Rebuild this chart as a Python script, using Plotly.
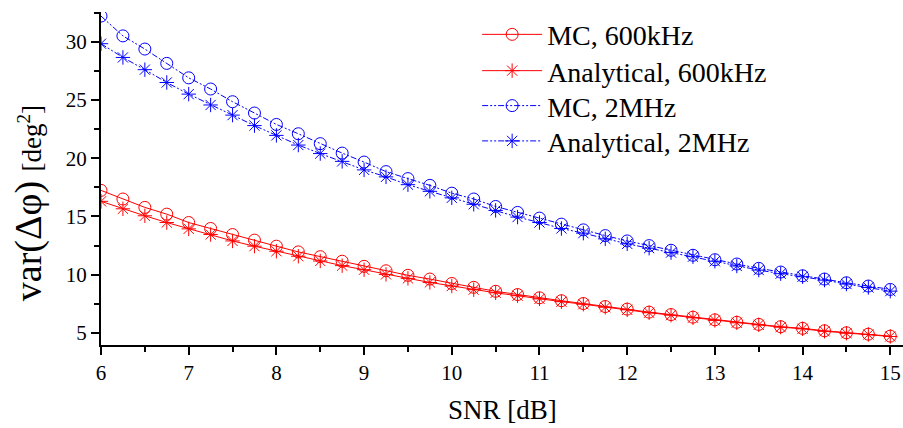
import plotly.graph_objects as go

snr = [6, 6.25, 6.5, 6.75, 7, 7.25, 7.5, 7.75, 8, 8.25, 8.5, 8.75, 9, 9.25, 9.5, 9.75,
       10, 10.25, 10.5, 10.75, 11, 11.25, 11.5, 11.75, 12, 12.25, 12.5, 12.75, 13,
       13.25, 13.5, 13.75, 14, 14.25, 14.5, 14.75, 15]

mc_600k = [17.24, 16.5, 15.78, 15.2, 14.48, 13.97, 13.45, 12.97, 12.45, 11.96, 11.55, 11.16,
           10.72, 10.34, 9.95, 9.63, 9.25, 8.92, 8.58, 8.3, 8.02, 7.77, 7.53, 7.27, 7.05,
           6.79, 6.58, 6.36, 6.13, 5.92, 5.74, 5.54, 5.4, 5.19, 5.02, 4.9, 4.73]
an_600k = [16.3, 15.66, 15.06, 14.48, 13.94, 13.45, 12.9, 12.45, 12.02, 11.59, 11.18, 10.78,
           10.43, 10.03, 9.69, 9.34, 9.03, 8.72, 8.45, 8.2, 7.93, 7.69, 7.47, 7.21, 6.99,
           6.74, 6.53, 6.31, 6.08, 5.88, 5.7, 5.5, 5.36, 5.15, 4.98, 4.87, 4.7]
mc_2m = [32.2, 30.5, 29.37, 28.14, 26.9, 25.94, 24.85, 23.88, 22.9, 22.1, 21.25, 20.44,
         19.67, 18.85, 18.25, 17.67, 17.0, 16.5, 15.86, 15.35, 14.86, 14.34, 13.85, 13.36,
         12.9, 12.5, 12.1, 11.67, 11.29, 10.92, 10.55, 10.23, 9.91, 9.63, 9.31, 9.03, 8.74]
an_2m = [29.83, 28.65, 27.6, 26.5, 25.5, 24.57, 23.7, 22.8, 21.96, 21.13, 20.4, 19.73,
         19.0, 18.4, 17.73, 17.16, 16.6, 16.05, 15.52, 14.95, 14.48, 13.97, 13.57, 13.08,
         12.65, 12.28, 11.9, 11.55, 11.16, 10.75, 10.4, 10.09, 9.83, 9.54, 9.2, 8.91, 8.59]

names = ["MC, 600kHz", "Analytical, 600kHz", "MC, 2MHz", "Analytical, 2MHz"]
x_ticks = [6, 7, 8, 9, 10, 11, 12, 13, 14, 15]
y_ticks = [5, 10, 15, 20, 25, 30]

RED = "#ff0000"
BLUE = "#0000ff"
FONT = "Liberation Serif"
DASHDOTDOT = "6px,2px,2px,2px,2px,2px"

series = [
    (mc_600k, names[0], RED, "solid", "circle-open"),
    (an_600k, names[1], RED, "solid", "asterisk-open"),
    (mc_2m, names[2], BLUE, DASHDOTDOT, "circle-open"),
    (an_2m, names[3], BLUE, DASHDOTDOT, "asterisk-open"),
]
legend_ids = ["legend", "legend2", "legend3", "legend4"]
legend_rows = [0.932, 0.823, 0.718, 0.612]

fig = go.Figure()
for i, (vals, name, col, dash, sym) in enumerate(series):
    fig.add_trace(go.Scatter(
        x=snr, y=vals, name=name, mode="lines+markers",
        line=dict(color=col, width=1, dash=dash),
        marker=dict(symbol=sym, size=12, color=col, line=dict(color=col, width=1)),
        legend=legend_ids[i],
    ))

axis_common = dict(
    showline=True, linecolor="black", linewidth=2,
    ticks="outside", ticklen=8, tickwidth=2, tickcolor="black",
    showgrid=False, zeroline=False, mirror=False,
    tickfont=dict(family=FONT, size=21, color="black"),
)

fig.update_xaxes(range=[6, 15.145], tickvals=x_ticks,
                 minor=dict(dtick=0.5, tick0=6, ticks="outside", ticklen=5, tickwidth=2, tickcolor="black"),
                 **axis_common)
fig.update_yaxes(range=[3.97, 32.55], tickvals=y_ticks,
                 minor=dict(dtick=2.5, tick0=5, ticks="outside", ticklen=5, tickwidth=2, tickcolor="black"),
                 **axis_common)

fig.add_annotation(
    text='var(Δφ) <span style="font-size:27px">[deg<sup>2</sup>]</span>',
    xref="paper", yref="paper", x=-0.091, y=0.426, textangle=-90,
    showarrow=False, font=dict(family=FONT, size=38, color="black"),
    xanchor="center", yanchor="middle",
)
fig.add_annotation(
    text="SNR [dB]", xref="paper", yref="paper", x=0.501, y=-0.195,
    showarrow=False, font=dict(family=FONT, size=27, color="black"),
    xanchor="center", yanchor="middle",
)

legend_layout = {}
for lid, ly in zip(legend_ids, legend_rows):
    legend_layout[lid] = dict(x=0.469, y=ly, xanchor="left", yanchor="middle",
                              font=dict(family=FONT, size=28, color="black"),
                              bgcolor="rgba(0,0,0,0)", itemwidth=60)

fig.update_layout(
    width=903, height=428,
    margin=dict(l=101, r=0, t=12, b=83),
    paper_bgcolor="white", plot_bgcolor="white",
    showlegend=True,
    **legend_layout,
)

fig.write_html("out.html",
               config={"displayModeBar": False},
               post_script="document.body.style.margin='0';document.body.style.overflow='hidden';")
